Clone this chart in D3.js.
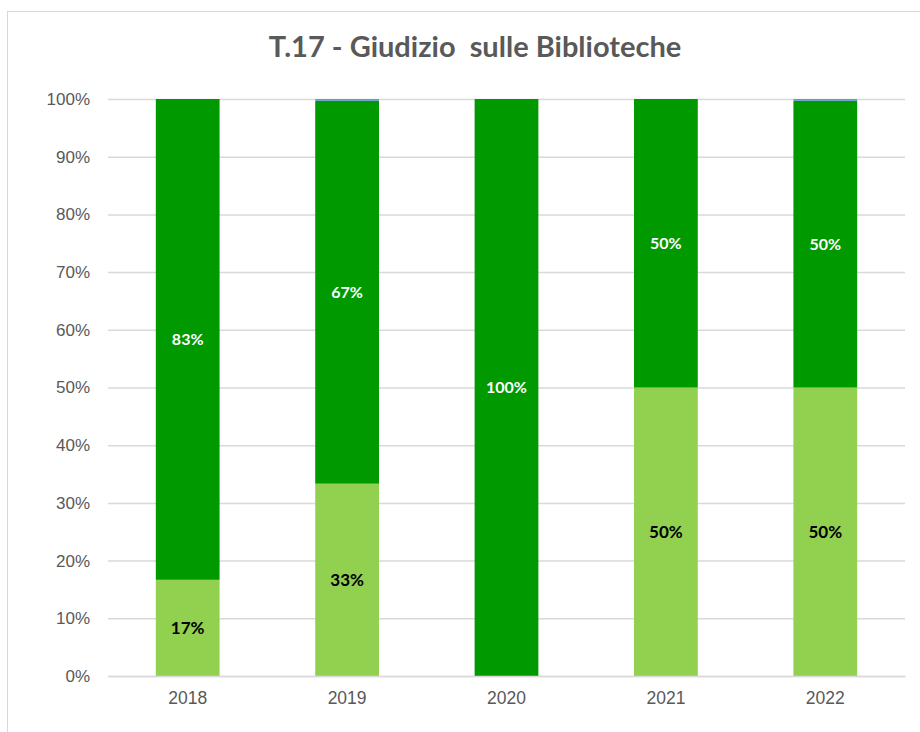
<!DOCTYPE html>
<html>
<head>
<meta charset="utf-8">
<script src="https://cdn.jsdelivr.net/npm/d3@7"></script>
<style>
  body { margin: 0; background: #ffffff; }
  svg { display: block; font-family: Lato, "Open Sans", sans-serif; }
</style>
</head>
<body>
<svg id="chart" width="920" height="732"></svg>
<script>
// Data (percent of answers per year)
const years = ["2018", "2019", "2020", "2021", "2022"];
const lightValues = [16.67, 33.33, 0, 50, 50];     // light green (bottom)
const darkValues = [83.33, 66.37, 100, 50, 49.7];  // dark green (middle)
const blueValues = [0, 0.3, 0, 0, 0.3];            // thin blue (top)
const lightLabels = ["17%", "33%", "", "50%", "50%"];
const darkLabels = ["83%", "67%", "100%", "50%", "50%"];
const yTicks = [0, 10, 20, 30, 40, 50, 60, 70, 80, 90, 100];

const svg = d3.select('#chart');

// Chart frame (clipped by the page edges)
svg.append('rect')
    .attr('x', 7.5).attr('y', 11.5)
    .attr('width', 940).attr('height', 760)
    .attr('fill', '#ffffff')
    .attr('stroke', '#d9d9d9')
    .attr('stroke-width', 1);

// Plot area
const margin = { top: 99, left: 108, right: 15, bottom: 55 };
const width = 920 - margin.left - margin.right;
const height = 732 - margin.top - margin.bottom - 1;

const g = svg.append('g')
    .attr('transform', `translate(${margin.left},${margin.top})`);

const x = d3.scaleBand()
    .domain(years)
    .range([0, width])
    .paddingInner(0.6)
    .paddingOuter(0.3);

const y = d3.scaleLinear()
    .domain([0, 100])
    .range([height, 0]);

// Grid lines
g.append('g')
    .call(d3.axisLeft(y).tickValues(yTicks).tickSize(-width).tickFormat(''))
    .call(a => a.select('.domain').remove())
    .selectAll('.tick line')
    .attr('stroke', '#d9d9d9')
    .attr('stroke-width', 1.5);

// Y axis labels
g.append('g')
    .call(d3.axisLeft(y).tickValues(yTicks).tickSize(0).tickPadding(18)
        .tickFormat(d => d + '%'))
    .call(a => a.select('.domain').remove())
    .selectAll('text')
    .style('fill', '#595959')
    .style('font-size', '17px');

// Stacked data
const rows = years.map((yr, i) => ({
    year: yr, light: lightValues[i], dark: darkValues[i], blue: blueValues[i]
}));
const stack = d3.stack().keys(['light', 'dark', 'blue'])(rows);
const colors = { light: '#92d050', dark: '#009900', blue: '#5b9bd5' };

stack.forEach(layer => {
    g.selectAll('.bar-' + layer.key)
        .data(layer)
        .enter().append('rect')
        .attr('x', d => x(d.data.year))
        .attr('width', x.bandwidth())
        .attr('y', d => y(d[1]))
        .attr('height', d => y(d[0]) - y(d[1]))
        .attr('fill', colors[layer.key]);
});

// X axis baseline and labels
g.append('g')
    .attr('transform', `translate(0,${height})`)
    .call(d3.axisBottom(x).tickSize(0).tickPadding(16))
    .call(a => a.select('.domain').attr('stroke', '#d9d9d9').attr('stroke-width', 1.5))
    .selectAll('text')
    .style('fill', '#595959')
    .style('font-size', '17.5px');

// Segment labels
const lightLayer = stack[0], darkLayer = stack[1];
g.selectAll('.lbl-light')
    .data(lightLayer)
    .enter().append('text')
    .attr('x', d => x(d.data.year) + x.bandwidth() / 2)
    .attr('y', d => y((d[0] + d[1]) / 2))
    .attr('dy', '0.35em')
    .attr('text-anchor', 'middle')
    .style('font-size', '17px')
    .style('font-weight', 'bold')
    .style('fill', '#000000')
    .text((d, i) => lightLabels[i]);

g.selectAll('.lbl-dark')
    .data(darkLayer)
    .enter().append('text')
    .attr('x', d => x(d.data.year) + x.bandwidth() / 2)
    .attr('y', d => y((d[0] + d[1]) / 2))
    .attr('dy', '0.35em')
    .attr('text-anchor', 'middle')
    .style('font-size', '16px')
    .style('font-weight', 'bold')
    .style('fill', '#ffffff')
    .text((d, i) => darkLabels[i]);

// Title
svg.append('text')
    .attr('x', 475)
    .attr('y', 57)
    .attr('text-anchor', 'middle')
    .style('fill', '#595959')
    .style('font-size', '29px')
    .style('font-weight', 'bold')
    .attr('xml:space', 'preserve')
    .text('T.17 - Giudizio  sulle Biblioteche');
</script>
</body>
</html>
